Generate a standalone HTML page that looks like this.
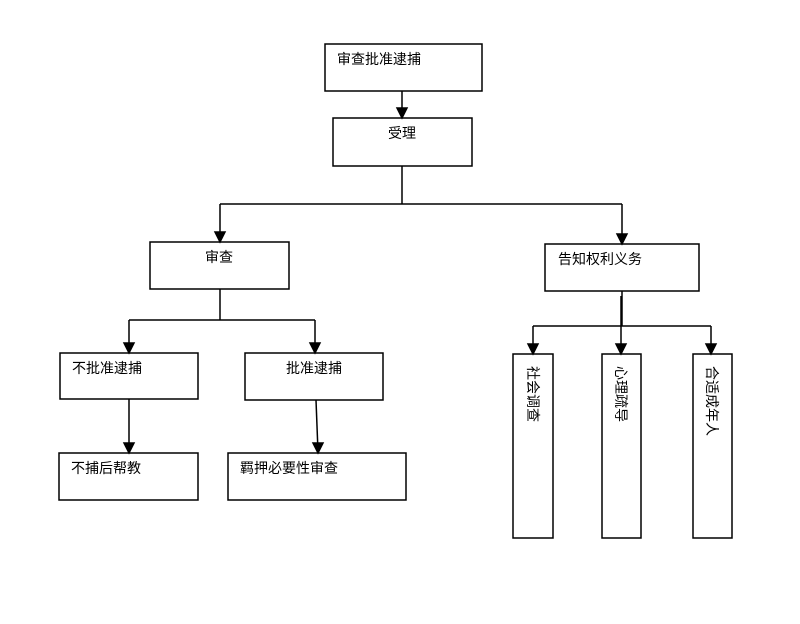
<!DOCTYPE html>
<html><head><meta charset="utf-8"><style>
html,body{margin:0;padding:0;background:#fff;width:800px;height:624px;overflow:hidden}
svg text{font-family:"Liberation Sans","Noto Sans CJK SC",sans-serif;font-size:14px;fill:#000}
</style></head><body>
<svg width="800" height="624" xmlns="http://www.w3.org/2000/svg">
<defs><marker id="a" markerWidth="10" markerHeight="10" refX="5" refY="9" orient="auto" markerUnits="userSpaceOnUse">
<path d="M0,0 L10,0 L5,10 z" fill="#000" transform="rotate(-90 5 5)"/></marker></defs>
<g fill="none" stroke="#000" stroke-width="1.5">
<rect x="325" y="44" width="157" height="47"/>
<rect x="333" y="118" width="139" height="48"/>
<rect x="150" y="242" width="139" height="47"/>
<rect x="545" y="244" width="154" height="47"/>
<rect x="60" y="353" width="138" height="46"/>
<rect x="245" y="353" width="138" height="47"/>
<rect x="59" y="453" width="139" height="47"/>
<rect x="228" y="453" width="178" height="47"/>
<rect x="513" y="354" width="40" height="184"/>
<rect x="602" y="354" width="39" height="184"/>
<rect x="693" y="354" width="39" height="184"/>
<path d="M402 166 V204 M220 204 H622"/>
<path d="M220 289 V320 M129 320 H315"/>
<path d="M622 291 V326 M533 326 H711"/>
</g>
<g stroke="#000" stroke-width="1.5" fill="#000">
<path d="M402 91 V117" fill="none"/><path d="M397 108 L407 108 L402 118z"/>
<path d="M220 204 V241" fill="none"/><path d="M215 232 L225 232 L220 242z"/>
<path d="M622 204 V243" fill="none"/><path d="M617 234 L627 234 L622 244z"/>
<path d="M129 320 V352" fill="none"/><path d="M124 343 L134 343 L129 353z"/>
<path d="M315 320 V352" fill="none"/><path d="M310 343 L320 343 L315 353z"/>
<path d="M129 399 V452" fill="none"/><path d="M124 443 L134 443 L129 453z"/>
<path d="M316 400 L318 452" fill="none"/><path d="M313 443 L323 443 L318 453z"/>
<path d="M533 326 V353" fill="none"/><path d="M528 344 L538 344 L533 354z"/>
<path d="M621 296 V353" fill="none"/><path d="M616 344 L626 344 L621 354z"/>
<path d="M711 326 V353" fill="none"/><path d="M706 344 L716 344 L711 354z"/>
</g>
<text x="337" y="64">审查批准逮捕</text>
<text x="388" y="138">受理</text>
<text x="205" y="262">审查</text>
<text x="558" y="264">告知权利义务</text>
<text x="72" y="373">不批准逮捕</text>
<text x="286" y="373">批准逮捕</text>
<text x="71" y="473">不捕后帮教</text>
<text x="240" y="473">羁押必要性审查</text>
<text transform="translate(528,366) rotate(90)">社会调查</text>
<text transform="translate(616,366) rotate(90)">心理疏导</text>
<text transform="translate(707,366) rotate(90)">合适成年人</text>
</svg>
</body></html>
